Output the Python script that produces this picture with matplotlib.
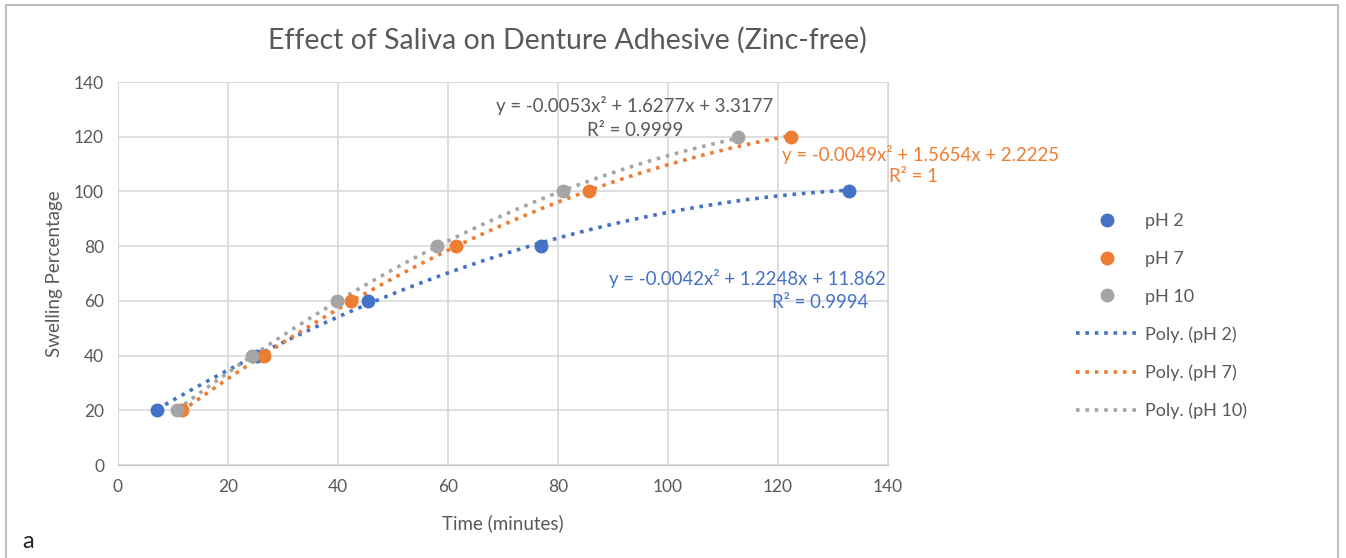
import numpy as np
import matplotlib.pyplot as plt
from matplotlib.patches import Rectangle

# data
ph2_x = [7.1, 25.2, 45.5, 76.9, 132.9]
ph2_y = [20, 40, 60, 80, 100]
ph7_x = [11.6, 26.5, 42.4, 61.5, 85.6, 122.4]
ph7_y = [20, 40, 60, 80, 100, 120]
ph10_x = [10.7, 24.4, 39.8, 58.0, 80.9, 112.7]
ph10_y = [20, 40, 60, 80, 100, 120]

# printed trendline coefficients (a, b, c) for y = a x^2 + b x + c
ph2_fit = [-0.0042, 1.2248, 11.862]
ph7_fit = [-0.0049, 1.5654, 2.2225]
ph10_fit = [-0.0053, 1.6277, 3.3177]

BLUE = "#4472C4"
ORANGE = "#ED7D31"
GREY = "#A5A5A5"
TXT = "#595959"

plt.rcParams["font.family"] = ["Lato", "DejaVu Sans"]

fig = plt.figure(figsize=(13.46, 5.58), dpi=100)
ax = fig.add_axes([118/1346, 93/558, 770/1346, 383/558])

series = [
	("pH 2", ph2_x, ph2_y, ph2_fit, BLUE),
	("pH 7", ph7_x, ph7_y, ph7_fit, ORANGE),
	("pH 10", ph10_x, ph10_y, ph10_fit, GREY),
]

pts, fits = [], []
for name, xs, ys, coef, col in series:
	h, = ax.plot(xs, ys, "o", color=col, markersize=9, label=name, zorder=3, linestyle="none")
	pts.append(h)
for name, xs, ys, coef, col in series:
	xx = np.linspace(min(xs), max(xs), 200)
	f, = ax.plot(xx, np.polyval(coef, xx), linestyle=(0, (1, 1.6)), color=col, lw=2.6,
		label=f"Poly. ({name})", zorder=2)
	fits.append(f)

ax.set_xlim(0, 140)
ax.set_ylim(0, 140)
ax.set_xticks(range(0, 141, 20))
ax.set_yticks(range(0, 141, 20))
ax.grid(True, color="#D9D9D9", lw=1.2)
ax.set_axisbelow(True)
ax.tick_params(length=0, labelsize=12.5, labelcolor=TXT, pad=10)
for s in ax.spines.values():
	s.set_color("#D9D9D9")
ax.spines["bottom"].set_color("#BFBFBF")

ax.set_xlabel("Time (minutes)", fontsize=13.5, color=TXT, labelpad=14)
ax.set_ylabel("Swelling Percentage", fontsize=13.5, color=TXT, labelpad=8)
fig.text(567/1346, 1 - 40/558, "Effect of Saliva on Denture Adhesive (Zinc-free)",
	ha="center", va="center", fontsize=20.5, color=TXT)

# trendline equation labels, placed in figure pixels from the top
def ptext(x, y, s, col, ha):
	fig.text(x/1346, 1 - y/558, s, ha=ha, va="center", fontsize=13.4, color=col)

ptext(635, 105, "y = -0.0053x² + 1.6277x + 3.3177", TXT, "center")
ptext(635, 130, "R² = 0.9999", TXT, "center")
ptext(782, 155, "y = -0.0049x² + 1.5654x + 2.2225", ORANGE, "left")
ptext(938, 177, "R² = 1", ORANGE, "right")
ptext(886, 279, "y = -0.0042x² + 1.2248x + 11.862", BLUE, "right")
ptext(868, 302, "R² = 0.9994", BLUE, "right")

fig.legend(handles=pts + fits, loc="upper left", bbox_to_anchor=(1060/1346, 1 - 197/558),
	frameon=False, fontsize=13, labelcolor=TXT, labelspacing=1.2, handlelength=3.4,
	handletextpad=0.4)

fig.text(22/1346, 1 - 541/558, "a", fontsize=17, va="center", ha="left", color="#222222")

fig.patches.append(Rectangle((6/1346, -0.01), 1332/1346, 1 - 5/558 + 0.01, transform=fig.transFigure,
	fill=False, edgecolor="#BFBFBF", lw=1.5))

fig.savefig("out.png", dpi=100)
